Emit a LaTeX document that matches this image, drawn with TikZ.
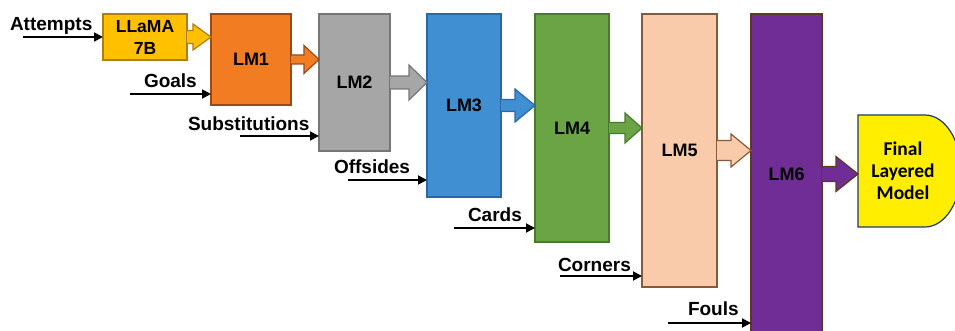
\documentclass[tikz,border=0pt]{standalone}
\usepackage{fontspec}
\setmainfont{Liberation Sans}
\newfontfamily\calib{Carlito}
\usetikzlibrary{arrows.meta,calc}

\definecolor{llamaF}{HTML}{FFC000}
\definecolor{llamaD}{HTML}{B07D10}
\definecolor{lmoneF}{HTML}{F27C22}
\definecolor{lmoneD}{HTML}{9A4A18}
\definecolor{lmtwoF}{HTML}{A6A6A6}
\definecolor{lmtwoD}{HTML}{767676}
\definecolor{lmthreeF}{HTML}{3F8FD2}
\definecolor{lmthreeD}{HTML}{2A69A6}
\definecolor{lmfourF}{HTML}{6AA445}
\definecolor{lmfourD}{HTML}{4A7A2C}
\definecolor{lmfiveF}{HTML}{FACBAA}
\definecolor{lmfiveD}{HTML}{8A5A38}
\definecolor{lmsixF}{HTML}{702D96}
\definecolor{lmsixD}{HTML}{5E3A1C}
\definecolor{finalF}{HTML}{FFEE00}
\definecolor{finalD}{HTML}{1F3A6E}

\tikzset{
  lmbox/.style={draw, line width=1.2pt, inner sep=0pt, outer sep=0pt,
    align=center, font=\bfseries\fontsize{18}{22}\selectfont},
  feed/.style={draw=black, line width=1.8pt, -{Triangle[length=9pt,width=9pt]}},
  inlabel/.style={anchor=base west, inner sep=0pt, outer sep=0pt,
    font=\bfseries\fontsize{19}{22}\selectfont},
  blk/.style={line width=1.2pt, line join=miter}
}

% block arrow from the east side of #1 to the west side of #2
% #3 shaft half height, #4 head half height, #5 head length, #6 fill/draw colours
\newcommand\blockarr[6]{%
  \filldraw[blk,#6] let \p1=(#1.east), \p2=(#2.west) in
    (\x1,\y1+#3pt) -- (\x2-#5pt,\y1+#3pt) -- (\x2-#5pt,\y1+#4pt) -- (\x2,\y1)
    -- (\x2-#5pt,\y1-#4pt) -- (\x2-#5pt,\y1-#3pt) -- (\x1,\y1-#3pt);}

\begin{document}
\begin{tikzpicture}[x=1pt,y=-1pt]
\useasboundingbox (0,0) rectangle (955,331);
\clip (0,0) rectangle (955,331);

% model blocks
\node[lmbox, fill=llamaF, draw=llamaD, minimum width=84pt, minimum height=46pt,
      font=\bfseries\fontsize{17.5}{22}\selectfont] (llama) at (145,37) {LLaMA\\7B};
\node[lmbox, fill=lmoneF, draw=lmoneD, minimum width=80pt, minimum height=91pt] (lm1) at (251,59.5) {LM1};
\node[lmbox, fill=lmtwoF, draw=lmtwoD, minimum width=71pt, minimum height=137pt] (lm2) at (354.5,82.5) {LM2};
\node[lmbox, fill=lmthreeF, draw=lmthreeD, minimum width=74pt, minimum height=183pt] (lm3) at (464,105.5) {LM3};
\node[lmbox, fill=lmfourF, draw=lmfourD, minimum width=74pt, minimum height=228pt] (lm4) at (572,128) {LM4};
\node[lmbox, fill=lmfiveF, draw=lmfiveD, minimum width=75pt, minimum height=273pt] (lm5) at (679.5,150.5) {LM5};
\node[lmbox, fill=lmsixF, draw=lmsixD, minimum width=71pt, minimum height=320pt] (lm6) at (786.5,174) {LM6};

% final model: flat left side, rounded right side
\filldraw[fill=finalF, draw=finalD, line width=1.2pt]
  (858,115) -- (925,115) arc[start angle=90, end angle=-90, x radius=36pt, y radius=56pt]
  -- (858,227) -- cycle;
\node[anchor=west, inner sep=0pt, outer sep=0pt, minimum width=90pt, minimum height=112pt,
      align=center, font=\calib\bfseries\fontsize{19.5}{22}\selectfont] (final) at (858,171)
      {Final\\Layered\\Model};

% block arrows between stages
\blockarr{llama}{lm1}{6.5}{13}{18}{fill=llamaF, draw=llamaD}
\blockarr{lm1}{lm2}{4.5}{14}{15}{fill=lmoneF, draw=lmoneD}
\blockarr{lm2}{lm3}{6.5}{17.5}{18}{fill=lmtwoF, draw=lmtwoD}
\blockarr{lm3}{lm4}{6}{16.5}{20}{fill=lmthreeF, draw=lmthreeD}
\blockarr{lm4}{lm5}{5.5}{15}{17}{fill=lmfourF, draw=lmfourD}
\blockarr{lm5}{lm6}{10}{16.5}{20}{fill=lmfiveF, draw=lmfiveD}
\blockarr{lm6}{final}{7.5}{17.5}{22}{fill=lmsixF, draw=lmsixD}

% feature inputs
\node[inlabel] (tAtt) at (10,31) {Attempts};
\node[inlabel] (tGoa) at (144,88) {Goals};
\node[inlabel] (tSub) at (188,131) {Substitutions};
\node[inlabel] (tOff) at (334,174) {Offsides};
\node[inlabel] (tCar) at (468,222) {Cards};
\node[inlabel] (tCor) at (558,271) {Corners};
\node[inlabel] (tFou) at (688,315) {Fouls};

\coordinate (sAtt) at (23,37);
\coordinate (sGoa) at (130,94);
\coordinate (sSub) at (240,136);
\coordinate (sOff) at (348,180);
\coordinate (sCar) at (454,228);
\coordinate (sCor) at (560,276);
\coordinate (sFou) at (668,323);

\draw[feed] (sAtt) -- (sAtt -| llama.west);
\draw[feed] (sGoa) -- (sGoa -| lm1.west);
\draw[feed] (sSub) -- (sSub -| lm2.west);
\draw[feed] (sOff) -- (sOff -| lm3.west);
\draw[feed] (sCar) -- (sCar -| lm4.west);
\draw[feed] (sCor) -- (sCor -| lm5.west);
\draw[feed] (sFou) -- (sFou -| lm6.west);
\end{tikzpicture}
\end{document}
